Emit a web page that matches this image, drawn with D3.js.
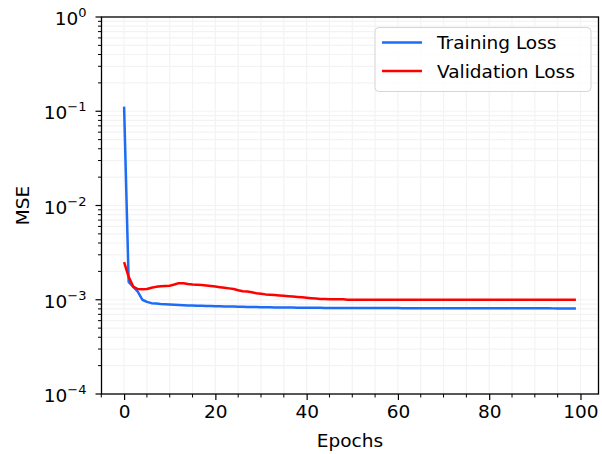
<!DOCTYPE html>
<html>
<head>
<meta charset="utf-8">
<script src="https://cdn.jsdelivr.net/npm/d3@7"></script>
<style>
  body { margin: 0; background: #fff; }
  text { font-family: "DejaVu Sans", sans-serif; fill: #000; }
</style>
</head>
<body>
<script>
var svgW = 602;
var svgH = 454;

// loss per epoch
var trainLoss = [
  0.112, 0.00155, 0.00137, 0.00122, 0.00100, 0.00095, 0.00092, 0.00091, 0.00090, 0.000895,
  0.00089, 0.000885, 0.00088, 0.000875, 0.00087, 0.000868, 0.000865, 0.000862, 0.00086, 0.000858,
  0.000855, 0.000853, 0.00085, 0.000848, 0.000846, 0.000844, 0.000842, 0.00084, 0.000838, 0.000836,
  0.000835, 0.000833, 0.000831, 0.00083, 0.000828, 0.000827, 0.000826, 0.000825, 0.000824, 0.000823,
  0.000822, 0.000821, 0.00082, 0.00082, 0.000819, 0.000819, 0.000818, 0.000818, 0.000818, 0.000817,
  0.000817, 0.000817, 0.000816, 0.000816, 0.000816, 0.000816, 0.000815, 0.000815, 0.000815, 0.000815,
  0.000815, 0.000814, 0.000814, 0.000814, 0.000814, 0.000814, 0.000814, 0.000813, 0.000813, 0.000813,
  0.000813, 0.000813, 0.000813, 0.000813, 0.000812, 0.000812, 0.000812, 0.000812, 0.000812, 0.000812,
  0.000812, 0.000812, 0.000812, 0.000811, 0.000811, 0.000811, 0.000811, 0.000811, 0.000811, 0.000811,
  0.000811, 0.000811, 0.000811, 0.000811, 0.00081, 0.00081, 0.00081, 0.00081, 0.00081, 0.00081
];
var valLoss = [
  0.0025, 0.00175, 0.00138, 0.0013, 0.00129, 0.0013, 0.00134, 0.00137, 0.00139, 0.0014,
  0.00141, 0.00145, 0.0015, 0.0015, 0.00147, 0.00145, 0.00144, 0.00143, 0.00142, 0.0014,
  0.00138, 0.00136, 0.00134, 0.00132, 0.0013, 0.00126, 0.00123, 0.00122, 0.0012, 0.00117,
  0.00116, 0.00114, 0.00113, 0.00112, 0.00111, 0.0011, 0.00109, 0.00108, 0.00107, 0.00106,
  0.00105, 0.00104, 0.00103, 0.00102, 0.00102, 0.00101, 0.00101, 0.00101, 0.00101, 0.001,
  0.001, 0.001, 0.001, 0.001, 0.001, 0.001, 0.001, 0.001, 0.001, 0.001,
  0.001, 0.001, 0.001, 0.001, 0.001, 0.001, 0.001, 0.001, 0.001, 0.001,
  0.001, 0.001, 0.001, 0.001, 0.001, 0.001, 0.001, 0.001, 0.001, 0.001,
  0.001, 0.001, 0.001, 0.001, 0.001, 0.001, 0.001, 0.001, 0.001, 0.001,
  0.001, 0.001, 0.001, 0.001, 0.001, 0.001, 0.001, 0.001, 0.001, 0.001
];
var xTicks = [0, 20, 40, 60, 80, 100];
var xMinor = [-5, 5, 10, 15, 25, 30, 35, 45, 50, 55, 65, 70, 75, 85, 90, 95];
var yExps = [0, -1, -2, -3, -4];
var seriesNames = ["Training Loss", "Validation Loss"];
var seriesColors = ["#1c6cf6", "#ff0000"];

var pLeft = 101.5, pRight = 598.5, pTop = 17, pBottom = 394;
var fontSize = "18.5px";

var x = d3.scaleLinear().domain([-4.95, 103.95]).range([pLeft, pRight]);
var y = d3.scaleLog().domain([1e-4, 1]).range([pBottom, pTop]);

// minor y ticks 2..9 per decade
var yMinor = [];
yExps.slice(1).forEach(function(e) {
  for (var k = 2; k <= 9; k++) yMinor.push(k * Math.pow(10, e));
});

var svg = d3.select("body").append("svg")
  .attr("width", svgW)
  .attr("height", svgH);

// grid (very faint, major + minor)
var grid = svg.append("g");
grid.selectAll("line.gx")
  .data(xTicks.concat(xMinor).filter(function(d) { return d >= 0 && d <= 100; }))
  .enter().append("line")
  .attr("x1", function(d) { return x(d); })
  .attr("x2", function(d) { return x(d); })
  .attr("y1", pTop).attr("y2", pBottom)
  .attr("stroke", "#f3f3f3").attr("stroke-width", 1.2);
grid.selectAll("line.gy")
  .data(yMinor.concat(yExps.map(function(e) { return Math.pow(10, e); })))
  .enter().append("line")
  .attr("x1", pLeft).attr("x2", pRight)
  .attr("y1", function(d) { return y(d); })
  .attr("y2", function(d) { return y(d); })
  .attr("stroke", "#f3f3f3").attr("stroke-width", 1.2);

// lines
var line = d3.line()
  .x(function(d, i) { return x(i); })
  .y(function(d) { return y(d); });

[trainLoss, valLoss].forEach(function(s, i) {
  svg.append("path")
    .datum(s)
    .attr("d", line)
    .attr("fill", "none")
    .attr("stroke", seriesColors[i])
    .attr("stroke-width", 2.5)
    .attr("stroke-linejoin", "round");
});

// x axis
var xAxis = svg.append("g").attr("transform", "translate(0," + pBottom + ")");
xAxis.call(d3.axisBottom(x).tickValues(xTicks).tickSize(6).tickPadding(5).tickFormat(d3.format("d")));
xAxis.selectAll(".tick line").attr("stroke", "#000").attr("stroke-width", 1.2);
xAxis.selectAll(".tick text").attr("font-size", fontSize).attr("fill", "#222").style("font-family", "DejaVu Sans");
xAxis.select(".domain").remove();
xAxis.selectAll("line.minor").data(xMinor).enter().append("line")
  .attr("class", "minor")
  .attr("x1", function(d) { return x(d); })
  .attr("x2", function(d) { return x(d); })
  .attr("y1", 0).attr("y2", 3.5)
  .attr("stroke", "#000").attr("stroke-width", 1);

// y axis
var yAxis = svg.append("g").attr("transform", "translate(" + pLeft + ",0)");
yAxis.selectAll("line.maj").data(yExps).enter().append("line")
  .attr("x1", -6).attr("x2", 0)
  .attr("y1", function(d) { return y(Math.pow(10, d)); })
  .attr("y2", function(d) { return y(Math.pow(10, d)); })
  .attr("stroke", "#000").attr("stroke-width", 1.2);
yAxis.selectAll("line.min").data(yMinor).enter().append("line")
  .attr("x1", -3.5).attr("x2", 0)
  .attr("y1", function(d) { return y(d); })
  .attr("y2", function(d) { return y(d); })
  .attr("stroke", "#000").attr("stroke-width", 1);
var yLab = yAxis.selectAll("text.lab").data(yExps).enter().append("text")
  .attr("x", -15)
  .attr("y", function(d) { return y(Math.pow(10, d)) + 8; })
  .attr("text-anchor", "end")
  .attr("font-size", fontSize)
  .attr("fill", "#222");
yLab.append("tspan").text("10");
yLab.append("tspan")
  .attr("dy", -8)
  .attr("font-size", "13px")
  .text(function(d) { return d === 0 ? "0" : "\u2212" + (-d); });

// frame
svg.append("rect")
  .attr("x", pLeft).attr("y", pTop)
  .attr("width", pRight - pLeft).attr("height", pBottom - pTop)
  .attr("fill", "none").attr("stroke", "#000").attr("stroke-width", 1.3);

// axis labels
svg.append("text")
  .attr("x", (pLeft + pRight) / 2).attr("y", 447)
  .attr("text-anchor", "middle")
  .attr("font-size", fontSize)
  .attr("fill", "#222")
  .text("Epochs");
svg.append("text")
  .attr("transform", "translate(29," + ((pTop + pBottom) / 2) + ") rotate(-90)")
  .attr("text-anchor", "middle")
  .attr("font-size", fontSize)
  .attr("fill", "#222")
  .text("MSE");

// legend
var legend = svg.append("g");
legend.append("rect")
  .attr("x", 375).attr("y", 27.5)
  .attr("width", 216).attr("height", 64)
  .attr("rx", 4)
  .attr("fill", "#fff").attr("fill-opacity", 0.8)
  .attr("stroke", "#d6d6d6").attr("stroke-width", 1);
seriesNames.forEach(function(n, i) {
  var ly = 42.5 + i * 28.5;
  legend.append("line")
    .attr("x1", 382).attr("x2", 422)
    .attr("y1", ly).attr("y2", ly)
    .attr("stroke", seriesColors[i]).attr("stroke-width", 2.5);
  legend.append("text")
    .attr("x", 437).attr("y", ly + 6.5)
    .attr("font-size", fontSize)
    .attr("fill", "#222")
    .text(n);
});
</script>
</body>
</html>
